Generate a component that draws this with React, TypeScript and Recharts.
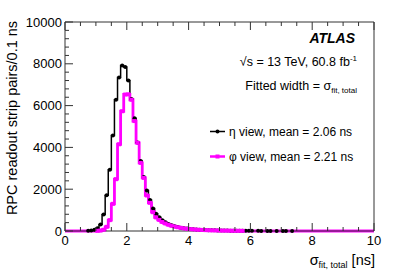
import React from "react"
import { ComposedChart, Line, XAxis, YAxis } from "recharts"

// histogram bins of 0.1 ns from 0 to 10 ns
const binWidth = 0.1
const etaCounts = [
  0, 0, 0, 0, 0, 0, 0, 10, 25, 60,
  130, 310, 790, 1710, 2930, 4570, 6280, 7340, 7920, 7850,
  7200, 6320, 5390, 4230, 3350, 2580, 1940, 1480, 1080, 820,
  660, 520, 420, 340, 280, 230, 190, 160, 135, 115,
  95, 82, 70, 60, 52, 45, 40, 35, 30, 26,
  23, 20, 18, 16, 14, 12, 11, 10, 9, 8,
  7, 0, 6, 5, 0, 4, 4, 0, 3, 0,
  2, 2, 0, 1, 0, 0, 0, 0, 0, 0,
  0, 0, 0, 0, 0, 0, 0, 0, 0, 0,
  0, 0, 0, 0, 0, 0, 0, 0, 0, 0,
]
const phiCounts = [
  0, 0, 0, 0, 0, 0, 0, 0, 0, 0,
  10, 20, 60, 200, 520, 1300, 2480, 4150, 5730, 6530,
  6540, 6280, 5260, 4220, 3260, 2540, 1700, 1350, 900, 650,
  530, 430, 360, 300, 250, 210, 180, 150, 125, 105,
  90, 78, 66, 57, 49, 42, 37, 32, 28, 24,
  21, 18, 16, 14, 12, 10, 9, 8, 0, 0,
  0, 0, 0, 0, 0, 0, 0, 0, 0, 0,
  0, 0, 0, 0, 0, 0, 0, 0, 0, 0,
  0, 0, 0, 0, 0, 0, 0, 0, 0, 0,
  0, 0, 0, 0, 0, 0, 0, 0, 0, 0,
]

const xTicks = [0, 0.5, 1, 1.5, 2, 2.5, 3, 3.5, 4, 4.5, 5, 5.5, 6, 6.5, 7, 7.5, 8, 8.5, 9, 9.5, 10]
const xLabels = [0, 2, 4, 6, 8, 10]
const yTicks = [
  0, 400, 800, 1200, 1600, 2000, 2400, 2800, 3200, 3600, 4000, 4400, 4800,
  5200, 5600, 6000, 6400, 6800, 7200, 7600, 8000, 8400, 8800, 9200, 9600, 10000,
]
const yLabels = [0, 2000, 4000, 6000, 8000, 10000]

const rows = [
  { x: 0, eta: 0, phi: 0 },
  ...etaCounts.map((v, i) => ({ x: +((i + 0.5) * binWidth).toFixed(2), eta: v, phi: phiCounts[i] })),
  { x: 10, eta: 0, phi: 0 },
]

const FONT = "'Liberation Sans', Arial, Helvetica, sans-serif"
const FRAME = "#333"
const MAJOR = 8
const MINOR = 4

const BottomTick = (props: any) => {
  const { x, y, payload } = props
  const major = xLabels.includes(payload.value)
  return (
    <g>
      <line x1={x} x2={x} y1={y} y2={y - (major ? MAJOR : MINOR)} stroke={FRAME} />
      {major && (
        <text x={x} y={y + 14} textAnchor="middle" fontSize={13} fontFamily={FONT} fill="#000">
          {payload.value}
        </text>
      )}
    </g>
  )
}

const TopTick = (props: any) => {
  const { x, y, payload } = props
  const major = xLabels.includes(payload.value)
  return <line x1={x} x2={x} y1={y} y2={y + (major ? MAJOR : MINOR)} stroke={FRAME} />
}

const LeftTick = (props: any) => {
  const { x, y, payload } = props
  const major = yLabels.includes(payload.value)
  return (
    <g>
      <line x1={x} x2={x + (major ? MAJOR : MINOR)} y1={y} y2={y} stroke={FRAME} />
      {major && (
        <text x={x - 3} y={y} dy="0.35em" textAnchor="end" fontSize={13} fontFamily={FONT} fill="#000">
          {payload.value}
        </text>
      )}
    </g>
  )
}

const RightTick = (props: any) => {
  const { x, y, payload } = props
  const major = yLabels.includes(payload.value)
  return <line x1={x} x2={x - (major ? MAJOR : MINOR)} y1={y} y2={y} stroke={FRAME} />
}

const EtaDot = (props: any) => {
  const { cx, cy, payload, index } = props
  if (!payload || payload.eta <= 0) return <g key={`e-${index}`} />
  return <circle key={`e-${index}`} cx={cx} cy={cy} r={2} fill="#000" />
}

const PhiDot = (props: any) => {
  const { cx, cy, payload, index } = props
  if (!payload || payload.phi <= 0) return <g key={`p-${index}`} />
  return <rect key={`p-${index}`} x={cx - 2} y={cy - 2} width={4} height={4} fill="#ff00ff" />
}

export default function App() {
  return (
    <div style={{ position: "absolute", left: 0, top: 0, width: 407, height: 276, background: "#fff" }}>
      <ComposedChart
        width={407}
        height={276}
        data={rows}
        margin={{ top: 21, right: 32, bottom: 0, left: 0 }}
      >
        <XAxis
          xAxisId="bottom"
          dataKey="x"
          type="number"
          domain={[0, 10]}
          ticks={xTicks}
          interval={0}
          height={45}
          tickSize={0}
          tickMargin={0}
          tickLine={false}
          axisLine={{ stroke: FRAME }}
          tick={<BottomTick />}
        />
        <XAxis
          xAxisId="top"
          orientation="top"
          dataKey="x"
          type="number"
          domain={[0, 10]}
          ticks={xTicks}
          interval={0}
          height={1}
          tickSize={0}
          tickMargin={0}
          tickLine={false}
          axisLine={{ stroke: FRAME }}
          tick={<TopTick />}
        />
        <YAxis
          yAxisId="left"
          type="number"
          domain={[0, 10000]}
          ticks={yTicks}
          interval={0}
          width={65}
          tickSize={0}
          tickMargin={0}
          tickLine={false}
          axisLine={{ stroke: FRAME }}
          tick={<LeftTick />}
        />
        <YAxis
          yAxisId="right"
          orientation="right"
          type="number"
          domain={[0, 10000]}
          ticks={yTicks}
          interval={0}
          width={1}
          tickSize={0}
          tickMargin={0}
          tickLine={false}
          axisLine={{ stroke: FRAME }}
          tick={<RightTick />}
        />
        <Line
          xAxisId="bottom"
          yAxisId="left"
          dataKey="eta"
          type="step"
          stroke="#000"
          strokeWidth={1.5}
          dot={<EtaDot />}
          isAnimationActive={false}
        />
        <Line
          xAxisId="bottom"
          yAxisId="left"
          dataKey="phi"
          type="step"
          stroke="#ff00ff"
          strokeWidth={2.8}
          dot={<PhiDot />}
          isAnimationActive={false}
        />
      </ComposedChart>
      <svg
        width={407}
        height={276}
        style={{ position: "absolute", left: 0, top: 0, pointerEvents: "none" }}
        fontFamily={FONT}
      >
        <text transform="translate(17,118) rotate(-90)" textAnchor="middle" fontSize={14.5} fill="#000">
          RPC readout strip pairs/0.1 ns
        </text>
        <text x={375} y={265} textAnchor="end" fontSize={14.5} fill="#000">
          σ<tspan fontSize={9} dy={3}>fit, total</tspan>
          <tspan dy={-3}> [ns]</tspan>
        </text>
        <text x={355} y={43} textAnchor="end" fontSize={14} fontWeight="bold" fontStyle="italic" fill="#000">
          ATLAS
        </text>
        <text x={357} y={66} textAnchor="end" fontSize={12.5} fill="#000">
          √s = 13 TeV, 60.8 fb<tspan fontSize={8} dy={-5}>-1</tspan>
        </text>
        <text x={357} y={90} textAnchor="end" fontSize={12.5} fill="#000">
          Fitted width = σ<tspan fontSize={8} dy={3}>fit, total</tspan>
        </text>
        <line x1={210} x2={225} y1={131.5} y2={131.5} stroke="#000" strokeWidth={1.5} />
        <circle cx={217.5} cy={131.5} r={2} fill="#000" />
        <text x={229} y={136} fontSize={12} fill="#000">
          η view, mean = 2.06 ns
        </text>
        <line x1={210} x2={225} y1={156.5} y2={156.5} stroke="#ff00ff" strokeWidth={2.5} />
        <rect x={215.5} y={154.5} width={4} height={4} fill="#ff00ff" />
        <text x={229} y={161} fontSize={12} fill="#000">
          φ view, mean = 2.21 ns
        </text>
      </svg>
    </div>
  )
}
